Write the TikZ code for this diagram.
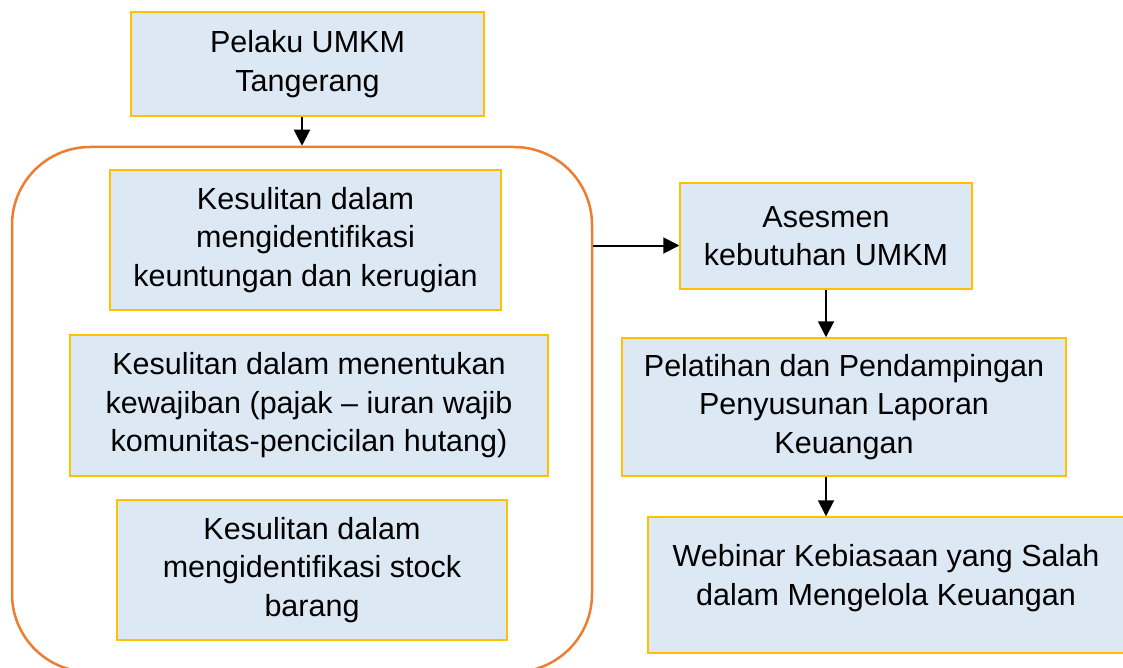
\documentclass[tikz,border=0pt]{standalone}
\usepackage{fontspec}
\setmainfont{Liberation Sans}
\usetikzlibrary{arrows.meta}
\definecolor{boxfill}{HTML}{DDE8F5}
\definecolor{boxline}{HTML}{FFC000}
\definecolor{grpline}{HTML}{ED7D31}
\begin{document}
\begin{tikzpicture}[
  x=1pt, y=-1pt,
  every node/.style={font=\fontsize{30.5}{38.5}\selectfont, align=center, inner sep=0pt},
  box/.style={draw=boxline, line width=1.5pt, fill=boxfill},
  grp/.style={draw=grpline, line width=2.5pt, rounded corners=78pt},
  arr/.style={draw, line width=2pt, -{Triangle[length=16pt,width=16pt]}}
]
\useasboundingbox (0,0) rectangle (1123,668);
\node[grp, minimum width=580pt, minimum height=525pt] (Grp) at (302,409.5) {};
\node[box, minimum width=353pt, minimum height=104pt] (Pel) at (307.5,64)
  {Pelaku UMKM\\Tangerang};
\node[box, minimum width=391pt, minimum height=140pt] (K1) at (305.5,240)
  {Kesulitan dalam\\mengidentifikasi\\keuntungan dan kerugian};
\node[box, minimum width=478pt, minimum height=141pt] (K2) at (309,405.5)
  {Kesulitan dalam menentukan\\kewajiban (pajak -- iuran wajib\\komunitas-pencicilan hutang)};
\node[box, minimum width=390pt, minimum height=140pt] (K3) at (312,570)
  {Kesulitan dalam\\mengidentifikasi stock\\barang};
\node[box, minimum width=292pt, minimum height=106pt] (As) at (826,236)
  {Asesmen\\kebutuhan UMKM};
\node[box, minimum width=444pt, minimum height=138pt] (Pl) at (844,407)
  {Pelatihan dan Pendampingan\\Penyusunan Laporan\\Keuangan};
\node[box, minimum width=476pt, minimum height=136pt] (Wb) at (886,585)
  {Webinar Kebiasaan yang Salah\\dalam Mengelola Keuangan\\[-18pt]\mbox{}};
\coordinate (AsIn) at ([yshift=-9.5pt]As.west);
\draw[arr] (Pel.south -| Grp.north) -- (Grp.north);
\draw[arr] (Grp.east |- AsIn) -- (AsIn);
\draw[arr] (As.south) -- (As.south |- Pl.north);
\draw[arr] (Pl.south -| As.south) -- (As.south |- Wb.north);
\end{tikzpicture}
\end{document}
